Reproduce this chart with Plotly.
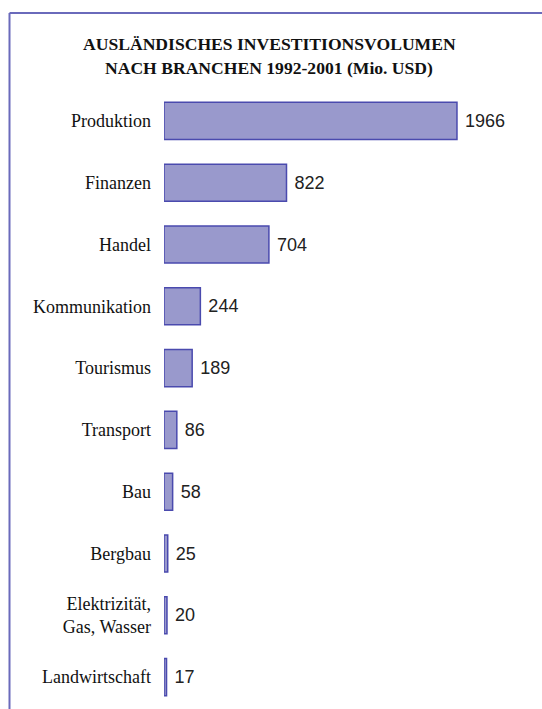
import plotly.graph_objects as go

# Foreign investment volume by sector, 1992-2001 (million USD)
branchen = ["Produktion", "Finanzen", "Handel", "Kommunikation", "Tourismus",
            "Transport", "Bau", "Bergbau", "Elektrizität,<br>Gas, Wasser",
            "Landwirtschaft"]
volumen = [1966, 822, 704, 244, 189, 86, 58, 25, 20, 17]
titel = ["AUSLÄNDISCHES INVESTITIONSVOLUMEN", "NACH BRANCHEN 1992-2001 (Mio. USD)"]

W, H = 542, 709
ML, MR, MT, MB = 164, 12, 90, 1
plot_w = W - ML - MR
plot_h = H - MT - MB
x_max = 2456

SERIF = "Liberation Serif, Times New Roman, serif"
SANS = "Liberation Sans, Arial, sans-serif"

fig = go.Figure(go.Bar(
    x=volumen,
    y=branchen,
    orientation="h",
    width=0.6,
    marker=dict(color="#9999cc", line=dict(color="#4a4aae", width=1.5)),
    text=volumen,
    texttemplate=" %{text}",
    textposition="outside",
    textfont=dict(family=SANS, size=18, color="#222222"),
    cliponaxis=False,
    hoverinfo="skip",
))


# pixel -> paper coordinates
def px_x(p):
    return (p - ML) / plot_w


def px_y(p):
    return (H - MB - p) / plot_h


# frame lines along the top and left of the panel
frame = dict(color="#6a6abb", width=2)
fig.add_shape(type="line", xref="paper", yref="paper",
              x0=px_x(9.5), x1=px_x(W + 5), y0=px_y(13), y1=px_y(13), line=frame)
fig.add_shape(type="line", xref="paper", yref="paper",
              x0=px_x(9.5), x1=px_x(9.5), y0=px_y(13), y1=px_y(H + 5), line=frame)

# two-line bold title
for zeile, ypix in zip(titel, [44, 68]):
    fig.add_annotation(
        text=f"<b>{zeile}</b>", xref="paper", yref="paper",
        x=px_x(269), y=px_y(ypix), xanchor="center", yanchor="middle",
        showarrow=False,
        font=dict(family=SERIF, size=17.6, color="#111111"),
    )

fig.update_layout(
    width=W, height=H,
    margin=dict(l=ML, r=MR, t=MT, b=MB),
    paper_bgcolor="white", plot_bgcolor="white",
    showlegend=False,
    xaxis=dict(range=[0, x_max], visible=False, fixedrange=True),
    yaxis=dict(
        autorange="reversed",
        showline=False, showgrid=False, zeroline=False,
        ticks="", ticklabelstandoff=12,
        tickfont=dict(family=SERIF, size=18, color="#111111"),
    ),
    bargap=0.4,
)

fig.write_html("out.html")
